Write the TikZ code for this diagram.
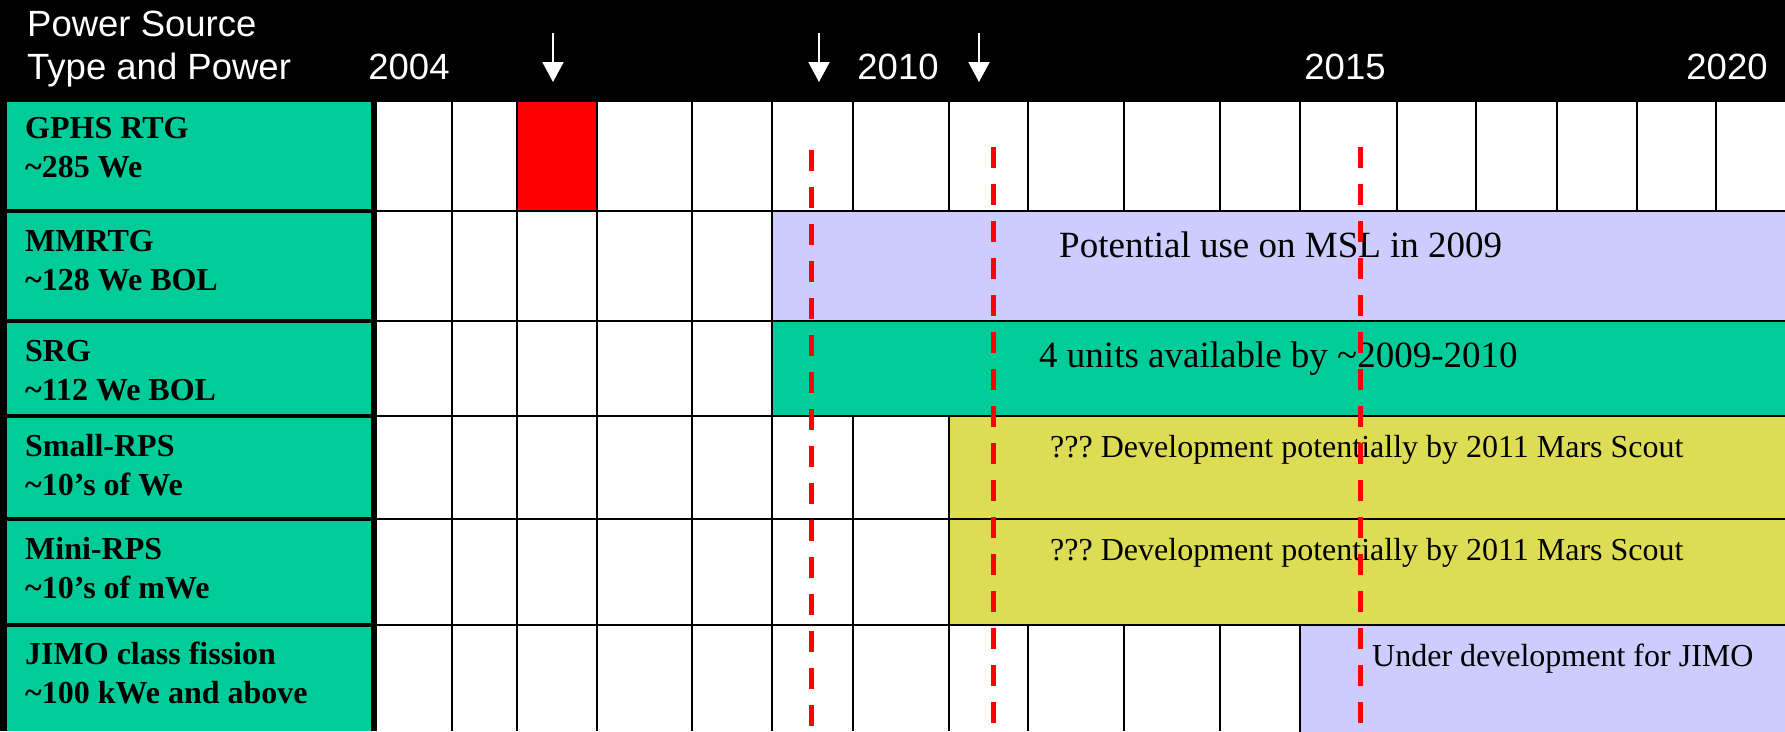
\documentclass[tikz,border=0pt]{standalone}
\usepackage{fontspec}
\setmainfont{Liberation Serif}
\newfontfamily\headfont{Liberation Sans}
\usetikzlibrary{positioning,arrows.meta}
\definecolor{srcgreen}{RGB}{0,204,153}
\definecolor{planblue}{RGB}{204,204,255}
\definecolor{devyellow}{RGB}{221,221,85}

\begin{document}
\frenchspacing
\begin{tikzpicture}[x=1pt,y=-1pt,>={Triangle[width=21pt,length=20pt]}]
\tikzstyle{gridline}=[black,line width=2.5pt]
\tikzstyle{bar}=[draw=black,line width=2.5pt]
\tikzstyle{head}=[white,font=\headfont\fontsize{36.5}{43}\selectfont,inner sep=0pt,anchor=base]
\tikzstyle{src}=[font=\bfseries\fontsize{32}{39}\selectfont,align=left,inner sep=0pt,anchor=base west]
\tikzstyle{barbig}=[font=\fontsize{37}{44}\selectfont,inner sep=0pt,anchor=base west]
\tikzstyle{barsmall}=[font=\fontsize{32}{38}\selectfont,inner sep=0pt,anchor=base west]
\tikzstyle{marker}=[white,line width=2pt,->]
\tikzstyle{launch}=[red,line width=5pt,dash pattern=on 21pt off 16pt]

\useasboundingbox (0,0) rectangle (1785,731);
\fill[black] (0,0) rectangle (1785,731);

% source column
\foreach \ya/\yb in {102/209,213/319,323/414,418/517,521/623,627/731}
  \fill[srcgreen] (7,\ya) rectangle (371,\yb);

% year grid
\fill[white] (377,102) rectangle (1785,731);
\fill[red] (517,102) rectangle (597,211);
\foreach \x in {452,517,597,692,772,853,949,1028,1124,1220,1300,1397,1476,1557,1637,1716}
  \draw[gridline] (\x,102) -- (\x,731);
\foreach \y in {211,321,416,519,625}
  \draw[gridline] (374,\y) -- (1785,\y);

% availability bars
\filldraw[bar,fill=planblue] (772,211) rectangle (1800,321);
\filldraw[bar,fill=srcgreen] (772,321) rectangle (1800,416);
\filldraw[bar,fill=devyellow] (949,416) rectangle (1800,519);
\filldraw[bar,fill=devyellow] (949,519) rectangle (1800,625);
\filldraw[bar,fill=planblue] (1300,625) rectangle (1800,745);

% header
\node[head,anchor=base west,align=left] (hdr) at (27,79) {Power Source\\Type and Power};
\node[head] (y2004) at (409,79) {2004};
\node[head] (y2010) at (898,79) {2010};
\node[head] (y2015) at (1345,79) {2015};
\node[head] (y2020) at (1727,79) {2020};

\draw[marker] (553,33) -- (553,82);
\draw[marker] (819,33) -- (819,82);
\draw[marker] (979,33) -- (979,82);

% power sources
\node[src] (gphs) at (25,177) {GPHS RTG\\\textasciitilde285 We};
\node[src] (mmrtg) at (25,290) {MMRTG\\\textasciitilde128 We BOL};
\node[src] (srg) at (25,400) {SRG\\\textasciitilde112 We BOL};
\node[src] (smallrps) at (25,495) {Small-RPS\\\textasciitilde10's of We};
\node[src] (minirps) at (25,598) {Mini-RPS\\\textasciitilde10's of mWe};
\node[src] (jimo) at (25,703) {JIMO class fission\\\textasciitilde100 kWe and above};

% bar texts
\node[barbig] (msl) at (1059,257) {Potential use on MSL in 2009};
\node[barbig] (srgunits) at (1039,367) {4 units available by \textasciitilde2009-2010};
\node[barsmall] (scoutA) at (1050,457) {??? Development potentially by 2011 Mars Scout};
\node[barsmall] (scoutB) at (1050,560) {??? Development potentially by 2011 Mars Scout};
\node[barsmall] (jimodev) at (1372,666) {Under development for JIMO};

% launch dates
\draw[launch] (811,150) -- (811,731);
\draw[launch] (993,147) -- (993,731);
\draw[launch] (1360,147) -- (1360,731);
\end{tikzpicture}
\end{document}
